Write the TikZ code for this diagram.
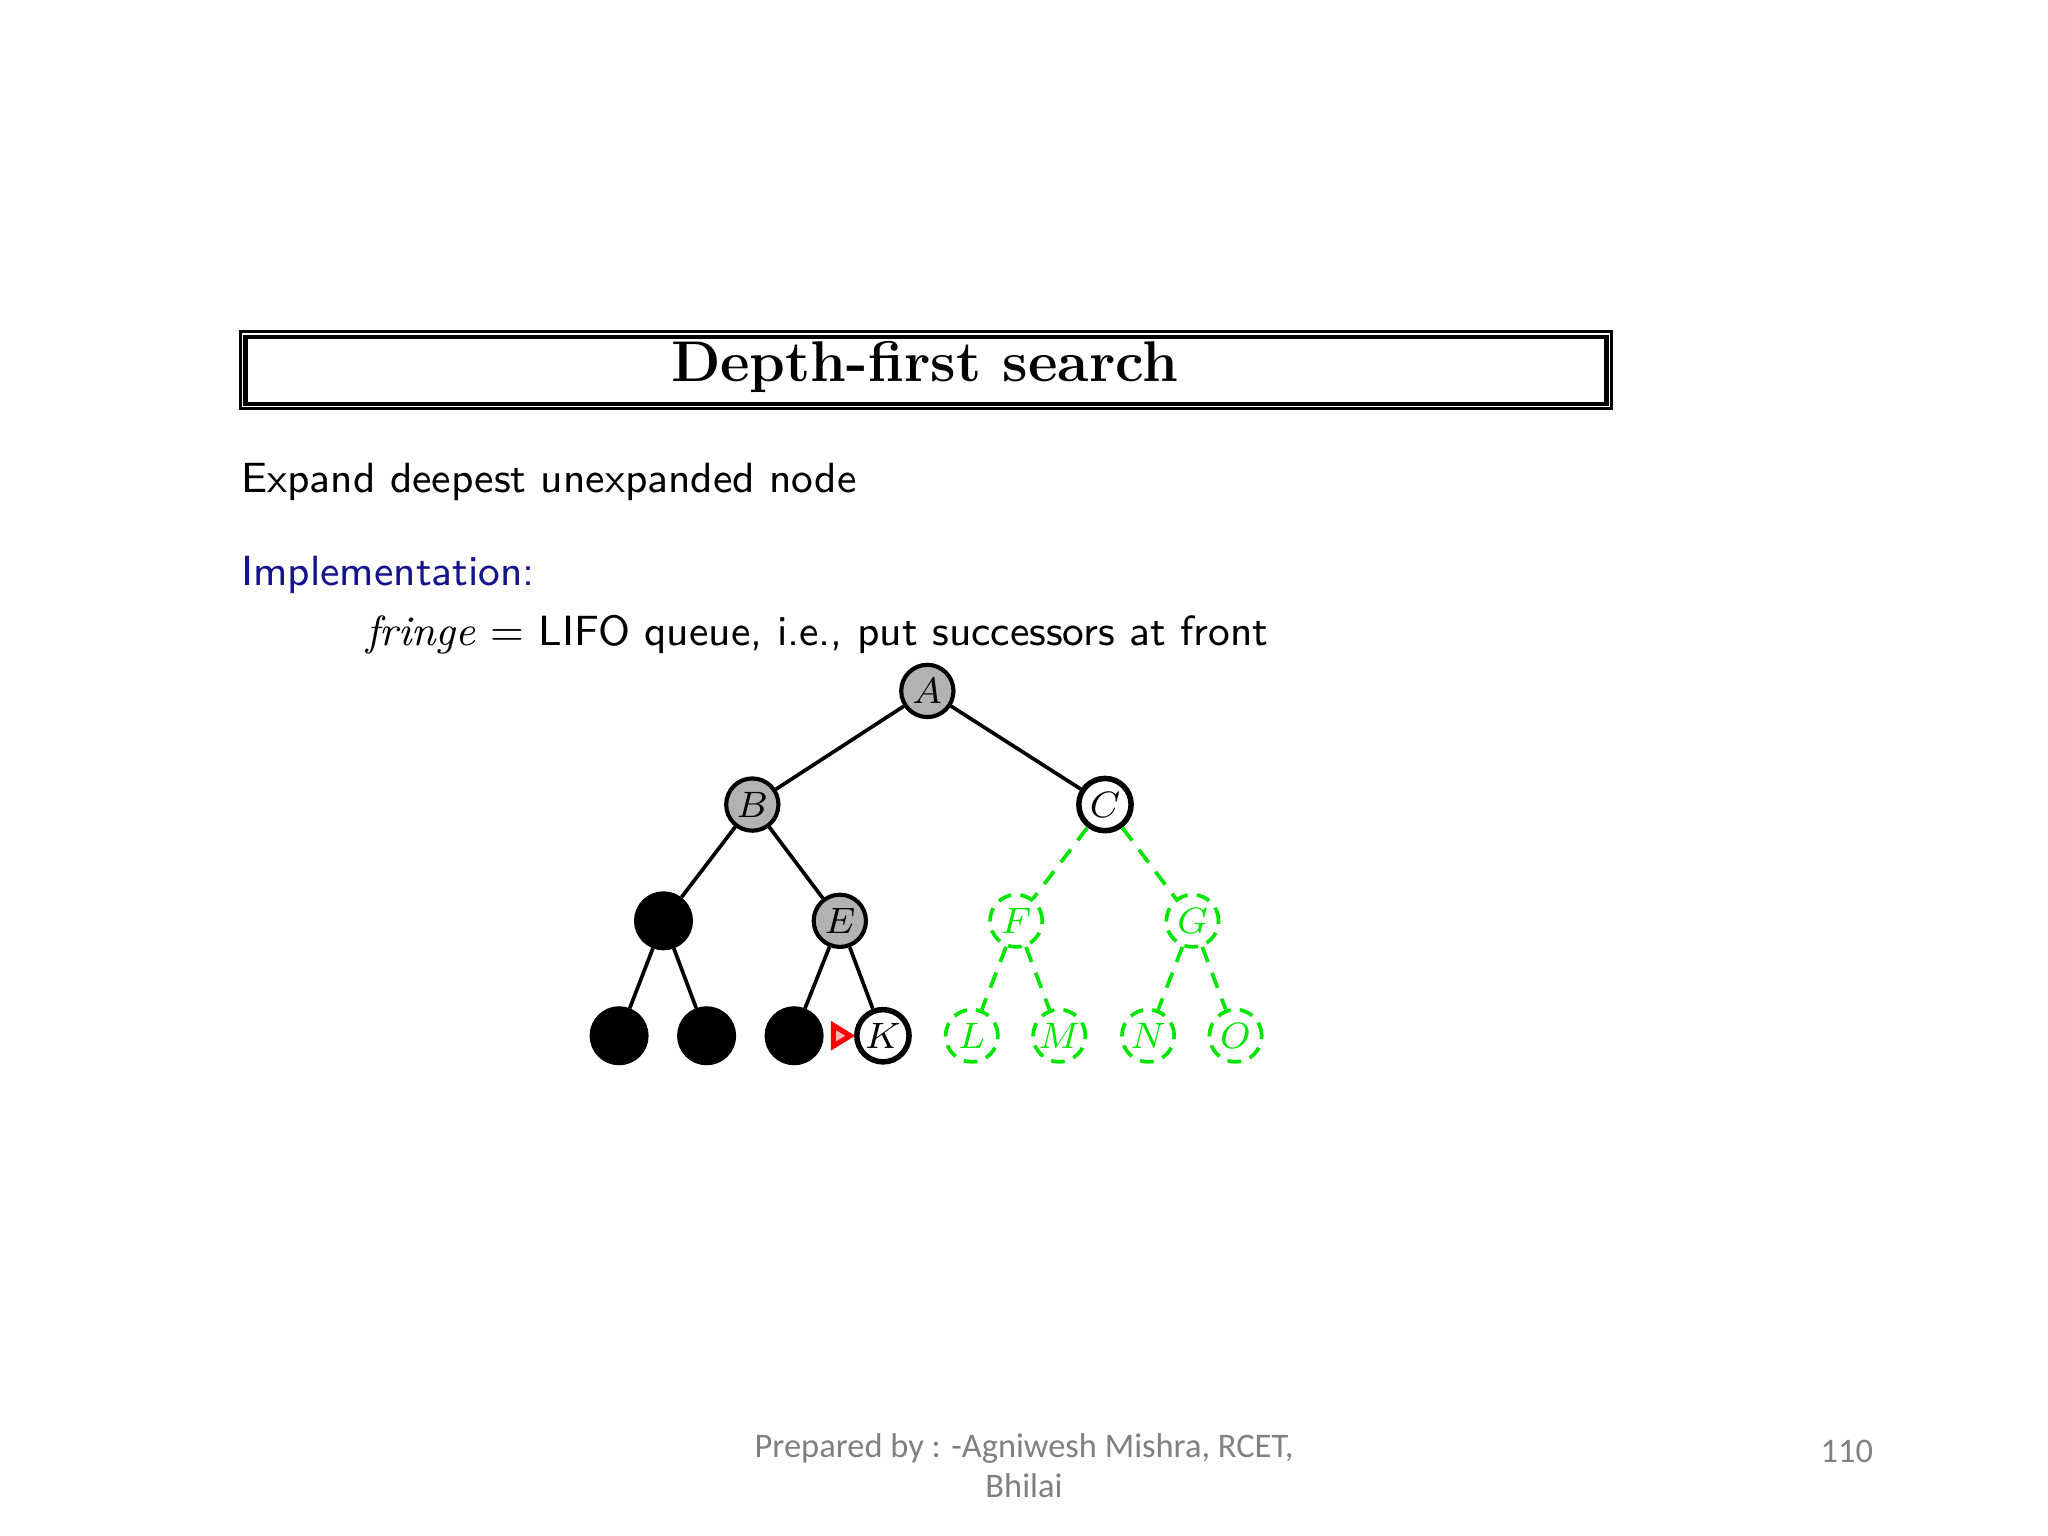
\documentclass[tikz,border=0pt]{standalone}
\usepackage{fontspec}
\newfontfamily\footfont{Carlito}
\begin{document}
\begin{tikzpicture}[x=0.01cm,y=-0.01cm,
  nd/.style={circle,draw,line width=0.9pt,minimum size=0.4cm,inner sep=0pt,font=\fontsize{8.5}{9}\selectfont},
  gr/.style={nd,fill=black!30},
  wh/.style={nd,fill=white,line width=1.2pt},
  bk/.style={nd,fill=black,minimum size=0.42cm},
  gn/.style={nd,draw=green!90!black,text=green!90!black,dash pattern=on 3pt off 2pt,line width=0.8pt},
  ed/.style={line width=0.8pt},
  ged/.style={line width=0.8pt,green!90!black,dash pattern=on 3.5pt off 2.5pt}]
\useasboundingbox (0,0) rectangle (1568,1176);
\draw[line width=0.6pt] (184,254) rectangle (1234,313);
\draw[line width=0.9pt] (188,258) rectangle (1230,309);
\node (t) at (708,281) {\fontsize{12.5}{14}\selectfont\bfseries Depth-first search};
\node[anchor=west,inner sep=0pt] (e) at (184,369) {\sffamily\fontsize{9.2}{11}\selectfont Expand deepest unexpanded node};
\node[anchor=west,inner sep=0pt,text={rgb,255:red,20;green,20;blue,140}] (im) at (184,440) {\sffamily\fontsize{9.2}{11}\selectfont Implementation:};
\node[anchor=west,inner sep=0pt] (fr) at (280,486) {\sffamily\fontsize{9.2}{11}\selectfont $\mathit{fringe}$ = LIFO queue, i.e., put successors at front};
\node[gr] (A) at (710,529) {$A$};
\node[gr] (B) at (576,616) {$B$};
\node[wh] (C) at (846,616) {$C$};
\node[bk] (D) at (508,705) {};
\node[gr] (E) at (643,705) {$E$};
\node[gn] (F) at (778,705) {$F$};
\node[gn] (G) at (913,705) {$G$};
\node[bk] (H) at (474,793) {};
\node[bk] (I) at (541,793) {};
\node[bk] (J) at (608,793) {};
\node[wh] (K) at (676,793) {$K$};
\node[gn] (L) at (744,793) {$L$};
\node[gn] (M) at (811,793) {$M$};
\node[gn] (N) at (879,793) {$N$};
\node[gn] (O) at (946,793) {$O$};
\draw[ed] (A)--(B); \draw[ed] (A)--(C);
\draw[ed] (B)--(D); \draw[ed] (B)--(E);
\draw[ed] (D)--(H); \draw[ed] (D)--(I);
\draw[ed] (E)--(J); \draw[ed] (E)--(K);
\draw[ged] (C)--(F); \draw[ged] (C)--(G);
\draw[ged] (F)--(L); \draw[ged] (F)--(M);
\draw[ged] (G)--(N); \draw[ged] (G)--(O);
\draw[red,line width=1.1pt,fill=red!30] (638,785)--(651,793)--(638,801)--cycle;
\node[text=black!50,align=center,font=\footfont\fontsize{7.5}{8.6}\selectfont] (ft) at (784,1122) {Prepared by : -Agniwesh Mishra, RCET,\\ Bhilai};
\node[text=black!50,font=\footfont\fontsize{7.5}{9}\selectfont] (pg) at (1414,1111) {110};
\end{tikzpicture}
\end{document}
